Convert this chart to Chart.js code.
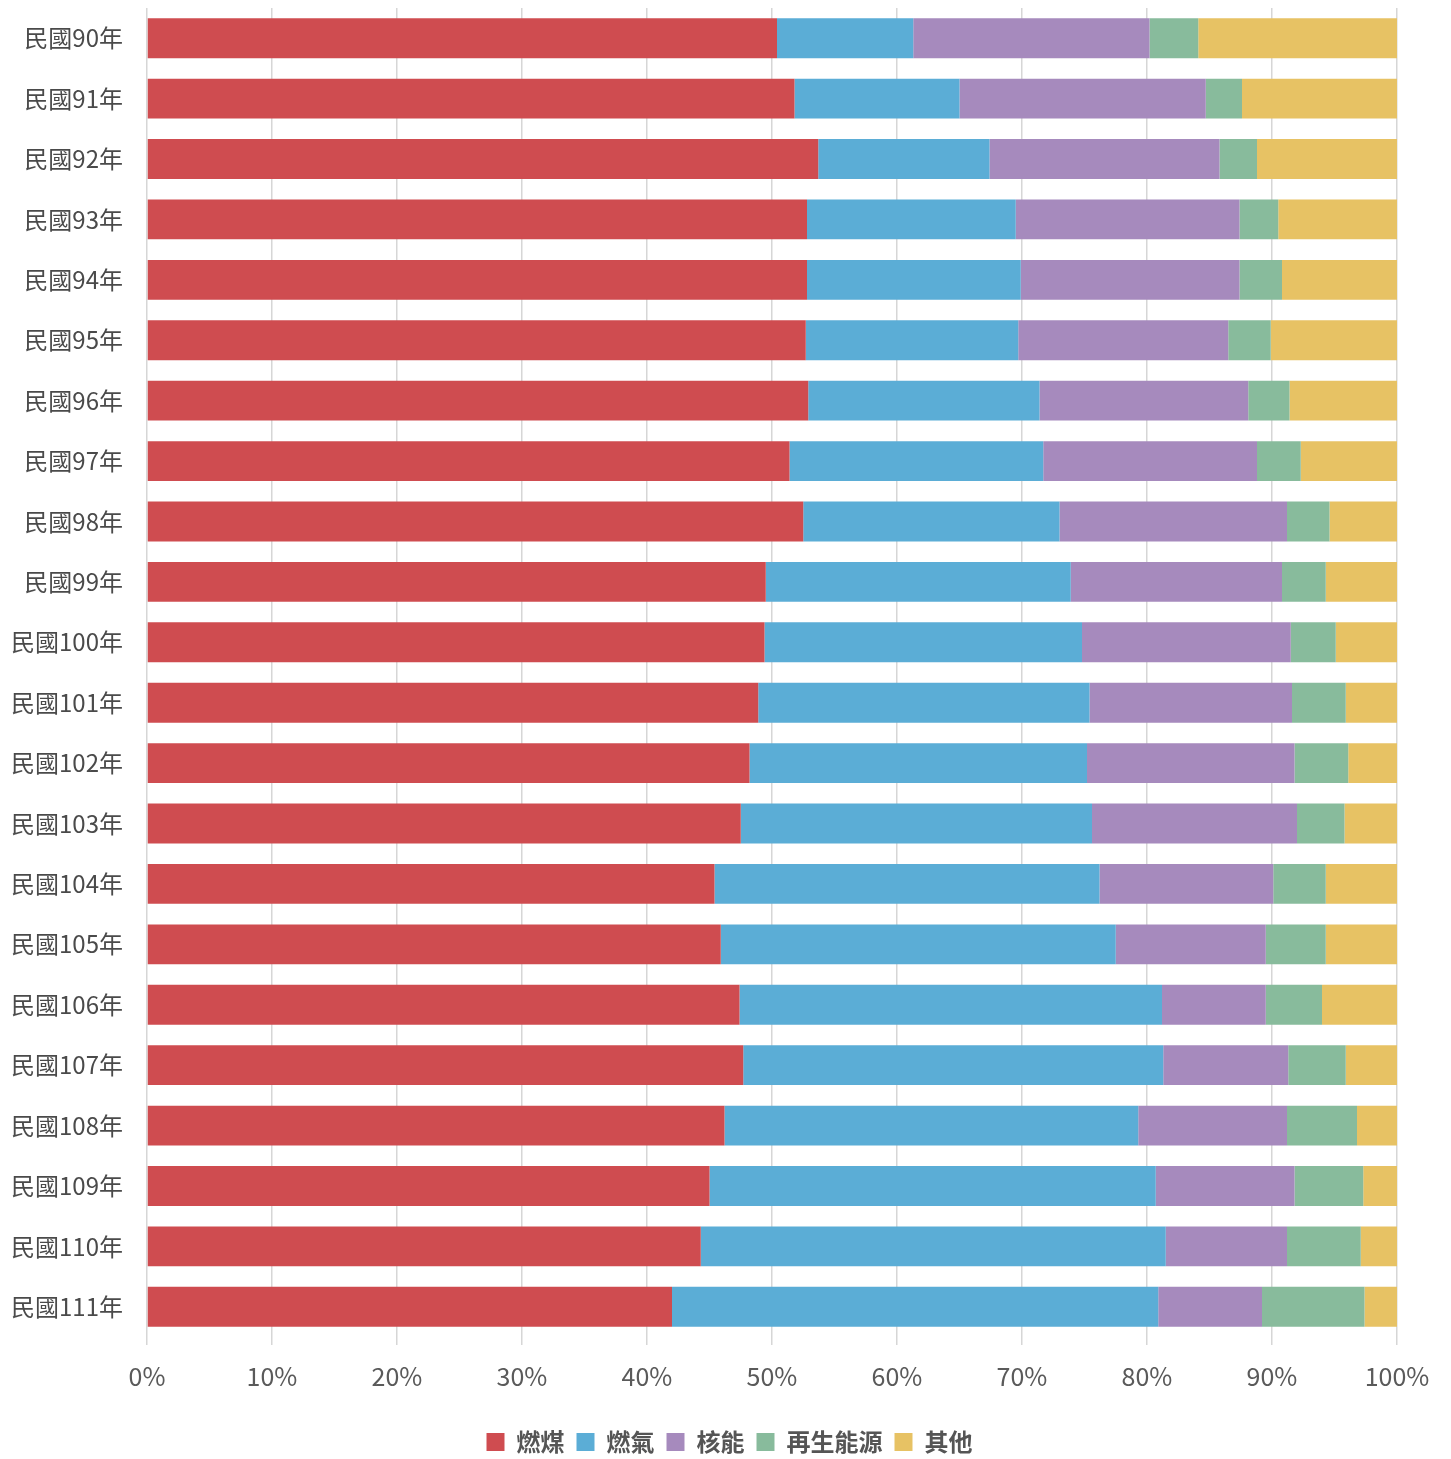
<!DOCTYPE html>
<html>
<head>
<meta charset="utf-8">
<script src="https://cdn.jsdelivr.net/npm/chart.js@4/dist/chart.umd.min.js"></script>
<style>
  html, body { margin: 0; padding: 0; background: #fff; }
  #wrap { width: 1451px; height: 1459px; position: relative; }
</style>
</head>
<body>
<div id="wrap"><canvas id="mix"></canvas></div>
<script>
// -------- data (percent share per year) --------
const years = ["民國90年","民國91年","民國92年","民國93年","民國94年","民國95年","民國96年","民國97年",
  "民國98年","民國99年","民國100年","民國101年","民國102年","民國103年","民國104年","民國105年",
  "民國106年","民國107年","民國108年","民國109年","民國110年","民國111年"];
const coal    = [50.4,51.8,53.7,52.8,52.8,52.7,52.9,51.4,52.5,49.5,49.4,48.9,48.2,47.5,45.4,45.9,47.4,47.7,46.2,45.0,44.3,42.0];
const gas     = [10.9,13.2,13.7,16.7,17.1,17.0,18.5,20.3,20.5,24.4,25.4,26.5,27.0,28.1,30.8,31.6,33.8,33.6,33.1,35.7,37.2,38.9];
const nuclear = [18.9,19.7,18.4,17.9,17.5,16.8,16.7,17.1,18.2,16.9,16.7,16.2,16.6,16.4,13.9,12.0,8.3,10.0,11.9,11.1,9.7,8.3];
const renew   = [3.9,2.9,3.0,3.1,3.4,3.4,3.3,3.5,3.4,3.5,3.6,4.3,4.3,3.8,4.2,4.8,4.5,4.6,5.6,5.5,5.9,8.2];
const other   = [15.9,12.4,11.2,9.5,9.2,10.1,8.6,7.7,5.4,5.7,4.9,4.1,3.9,4.2,5.7,5.7,6.0,4.1,3.2,2.7,2.9,2.6];
const seriesNames = ["燃煤","燃氣","核能","再生能源","其他"];
const xTicks = [0,10,20,30,40,50,60,70,80,90,100];

const colors = ["#cf4c50","#5badd6","#a68abd","#88bb9c","#e7c264"];
const font = '"Noto Sans CJK TC", "Noto Sans", sans-serif';

const sets = [coal, gas, nuclear, renew, other].map((d, i) => ({
  label: seriesNames[i],
  data: d,
  backgroundColor: colors[i],
  borderWidth: 0,
  barPercentage: 0.66,
  categoryPercentage: 1
}));

// nudge legend so it sits centred on the page, like the original
const legendShift = {
  id: "legendShift",
  afterLayout(chart) {
    const lg = chart.legend;
    if (!lg) return;
    lg.left += 31; lg.right += 31;
    lg.top += 5; lg.bottom += 5;
  }
};

new Chart(document.getElementById("mix"), {
  type: "bar",
  data: { labels: years, datasets: sets },
  plugins: [legendShift],
  options: {
    indexAxis: "y",
    responsive: true,
    maintainAspectRatio: false,
    animation: false,
    layout: { padding: { top: 8, right: 54, bottom: 0, left: 0 } },
    scales: {
      x: {
        stacked: true,
        min: 0, max: 100,
        afterBuildTicks: s => { s.ticks = xTicks.map(v => ({ value: v })); },
        afterFit: s => { s.height = 76; },
        grid: { color: "#d6d6d6", lineWidth: 1.5, drawTicks: true, tickLength: 8 },
        border: { display: false },
        ticks: {
          padding: 16,
          color: "#5a5a5a",
          font: { family: font, size: 25 },
          callback: v => v + "%"
        }
      },
      y: {
        stacked: true,
        afterFit: s => { s.width = 147; s.paddingTop = 0; s.paddingBottom = 0; },
        grid: { display: false, drawTicks: false },
        border: { display: false },
        ticks: {
          padding: 24,
          color: "#4a4a4a",
          font: { family: font, size: 24 }
        }
      }
    },
    plugins: {
      legend: {
        position: "bottom",
        labels: {
          boxWidth: 18, boxHeight: 18,
          padding: 12,
          color: "#555",
          font: { family: font, size: 24, weight: "bold" }
        }
      },
      tooltip: { enabled: false }
    }
  }
});
</script>
</body>
</html>
